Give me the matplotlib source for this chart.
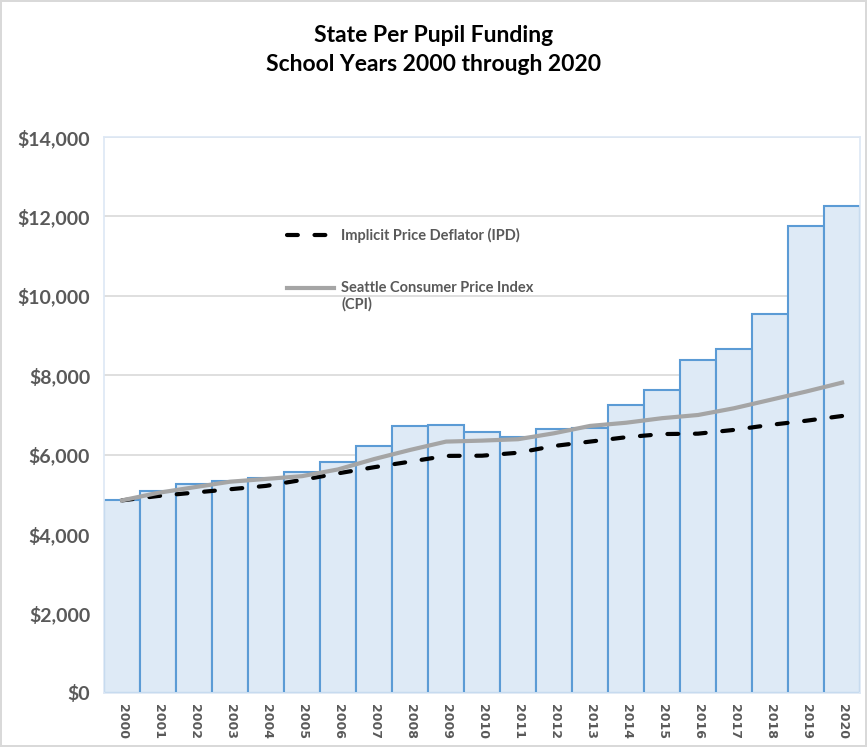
import matplotlib.pyplot as plt
from matplotlib.legend_handler import HandlerLine2D
import numpy as np

years = [str(y) for y in range(2000, 2021)]
funding = [4850, 5090, 5270, 5345, 5405, 5560, 5825, 6230, 6730, 6760,
           6560, 6455, 6640, 6680, 7250, 7640, 8385, 8670, 9545, 11750, 12265]
cpi = [4850, 5040, 5180, 5320, 5390, 5460, 5630, 5890, 6120, 6330,
       6355, 6390, 6540, 6725, 6805, 6920, 7000, 7170, 7380, 7590, 7815]
ipd = [4850, 4960, 5045, 5130, 5215, 5365, 5530, 5685, 5825, 5970,
       5975, 6050, 6220, 6330, 6440, 6520, 6530, 6625, 6750, 6855, 6975]

plt.rcParams['font.family'] = ['Lato', 'DejaVu Sans']
txt = '#595959'


# legend handle lined up with the first line of a two line label
class TopLineHandler(HandlerLine2D):
    def create_artists(self, legend, orig_handle, xdescent, ydescent, width, height, fontsize, trans):
        arts = super().create_artists(legend, orig_handle, xdescent, ydescent, width, height, fontsize, trans)
        for a in arts:
            a.set_ydata(np.asarray(a.get_ydata()) + fontsize * 0.6)
        return arts


fig = plt.figure(figsize=(8.67, 7.47), dpi=100)
fig.patch.set_edgecolor('#d9d9d9')
fig.patch.set_linewidth(1.5)
ax = fig.add_axes([0.120, 0.0723, 0.872, 0.7443])

x = np.arange(len(years))
ax.bar(x, funding, width=1.0, color='#deeaf6', edgecolor='#5b9bd5', linewidth=1.5, zorder=2)
ipd_line, = ax.plot(x, ipd, color='black', lw=3, dashes=(2.6, 4.0), dash_capstyle='round',
                    label='Implicit Price Deflator (IPD)', zorder=3)
cpi_line, = ax.plot(x, cpi, color='#a5a5a5', lw=3,
                    label='Seattle Consumer Price Index\n(CPI)', zorder=3)

ax.set_xlim(-0.5, len(years) - 0.5)
ax.set_ylim(0, 14000)
ax.set_yticks(range(0, 14001, 2000))
ax.set_yticklabels(['${:,}'.format(v) for v in range(0, 14001, 2000)],
                   fontsize=14, fontweight='bold', color=txt)
ax.set_xticks(x)
ax.set_xticklabels(years, rotation=270, fontsize=9, fontweight='bold', color=txt,
                   family='DejaVu Sans')
ax.tick_params(length=0, axis='both')
ax.tick_params(axis='x', pad=8)
ax.tick_params(axis='y', pad=10)
ax.grid(axis='y', color='#d9d9d9', lw=1.2, zorder=0)
ax.set_axisbelow(True)
for s in ax.spines.values():
    s.set_color('#dde8f5')
    s.set_linewidth(1.2)

leg = ax.legend(loc='upper left', bbox_to_anchor=(0.225, 0.86), frameon=False,
                fontsize=10.5, handlelength=3.2, labelspacing=2.6, handletextpad=0.5,
                handler_map={cpi_line: TopLineHandler()})
for t in leg.get_texts():
    t.set_color(txt)
    t.set_fontweight('bold')

fig.text(0.5, 0.966, 'State Per Pupil Funding\nSchool Years 2000 through 2020',
         ha='center', va='top', fontsize=16.5, fontweight='bold', linespacing=1.45)

fig.savefig('out.png', dpi=100)
